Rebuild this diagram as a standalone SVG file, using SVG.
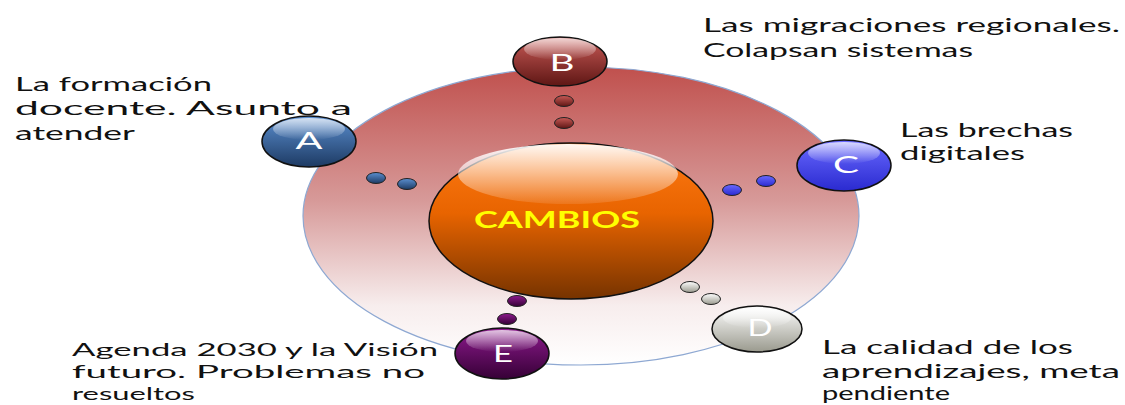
<svg xmlns="http://www.w3.org/2000/svg" width="1125" height="405" viewBox="0 0 1125 405">
<defs>
<linearGradient id="gRing" x1="0" y1="0" x2="0" y2="1">
<stop offset="0" stop-color="#c0504d"/>
<stop offset="0.45" stop-color="#d79a99"/>
<stop offset="0.8" stop-color="#f7eded"/>
<stop offset="1" stop-color="#ffffff"/>
</linearGradient>
<linearGradient id="gCore" x1="0" y1="0" x2="0" y2="1">
<stop offset="0" stop-color="#ff7a14"/>
<stop offset="0.45" stop-color="#e86400"/>
<stop offset="1" stop-color="#763300"/>
</linearGradient>
<linearGradient id="gHi" x1="0" y1="0" x2="0" y2="1">
<stop offset="0" stop-color="#ffffff" stop-opacity="0.95"/>
<stop offset="1" stop-color="#ffffff" stop-opacity="0.1"/>
</linearGradient>
<linearGradient id="gA" x1="0" y1="0" x2="0" y2="1">
<stop offset="0" stop-color="#5b8fd0"/>
<stop offset="1" stop-color="#1d3a63"/>
</linearGradient>
<linearGradient id="gB" x1="0" y1="0" x2="0" y2="1">
<stop offset="0" stop-color="#c85a56"/>
<stop offset="1" stop-color="#5e1614"/>
</linearGradient>
<linearGradient id="gC" x1="0" y1="0" x2="0" y2="1">
<stop offset="0" stop-color="#6a6aff"/>
<stop offset="1" stop-color="#2a2ad0"/>
</linearGradient>
<linearGradient id="gD" x1="0" y1="0" x2="0" y2="1">
<stop offset="0" stop-color="#ffffff"/>
<stop offset="1" stop-color="#9a9a8e"/>
</linearGradient>
<linearGradient id="gE" x1="0" y1="0" x2="0" y2="1">
<stop offset="0" stop-color="#8e1a8e"/>
<stop offset="1" stop-color="#360036"/>
</linearGradient>
<linearGradient id="gGloss" x1="0" y1="0" x2="0" y2="1">
<stop offset="0" stop-color="#ffffff" stop-opacity="0.75"/>
<stop offset="1" stop-color="#ffffff" stop-opacity="0"/>
</linearGradient>
</defs>
<style>
.ball{stroke:#111;stroke-width:1.5}
.dot{stroke:#222;stroke-width:1}
.gloss{fill:url(#gGloss)}
.let{font-family:Lato,"Open Sans","Liberation Sans",sans-serif;font-size:23px;fill:#ffffff;text-anchor:middle}
.lab{font-family:Lato,"Open Sans","Liberation Sans",sans-serif;font-size:20px;fill:#111}
.labs{font-size:18px}
.core{font-family:Lato,"Open Sans","Liberation Sans",sans-serif;font-size:22px;font-weight:bold;fill:#ffff00}
</style>
<rect width="1125" height="405" fill="#ffffff"/>
<g id="ring">
<ellipse cx="581" cy="216" rx="278" ry="149" fill="url(#gRing)" stroke="#8ea8d2" stroke-width="1.2"/>
</g>
<g id="connectors">
<ellipse class="dot" cx="376" cy="178" rx="9.5" ry="5.5" fill="url(#gA)"/>
<ellipse class="dot" cx="407" cy="184" rx="9.5" ry="5.5" fill="url(#gA)"/>
<ellipse class="dot" cx="564" cy="101" rx="9.5" ry="5.5" fill="url(#gB)"/>
<ellipse class="dot" cx="564" cy="123" rx="9.5" ry="5.5" fill="url(#gB)"/>
<ellipse class="dot" cx="766" cy="181" rx="9.5" ry="5.5" fill="url(#gC)"/>
<ellipse class="dot" cx="732" cy="190" rx="9.5" ry="5.5" fill="url(#gC)"/>
<ellipse class="dot" cx="690" cy="287" rx="9.5" ry="5.5" fill="url(#gD)"/>
<ellipse class="dot" cx="711" cy="299" rx="9.5" ry="5.5" fill="url(#gD)"/>
<ellipse class="dot" cx="517" cy="301" rx="9.5" ry="5.5" fill="url(#gE)"/>
<ellipse class="dot" cx="507" cy="319" rx="9.5" ry="5.5" fill="url(#gE)"/>
</g>
<g id="cambios">
<ellipse cx="571" cy="221" rx="142" ry="78" fill="url(#gCore)" stroke="#111" stroke-width="1.5"/>
<ellipse cx="568" cy="174" rx="110" ry="30" fill="url(#gHi)"/>
<text class="core" x="474" y="228" textLength="166" lengthAdjust="spacingAndGlyphs">CAMBIOS</text>
</g>
<g id="node-a">
<ellipse class="ball" cx="309" cy="141.5" rx="47" ry="25.5" fill="url(#gA)"/>
<ellipse class="gloss" cx="309" cy="129" rx="36" ry="11"/>
<text class="let" x="309" y="149" textLength="27" lengthAdjust="spacingAndGlyphs">A</text>
<text class="lab" x="15" y="91" textLength="197" lengthAdjust="spacingAndGlyphs">La formación</text>
<text class="lab" x="15" y="115" textLength="337" lengthAdjust="spacingAndGlyphs">docente. Asunto a</text>
<text class="lab" x="15" y="140" textLength="120" lengthAdjust="spacingAndGlyphs">atender</text>
</g>
<g id="node-b">
<ellipse class="ball" cx="560" cy="61.5" rx="47" ry="24.5" fill="url(#gB)"/>
<ellipse class="gloss" cx="560" cy="49" rx="36" ry="11"/>
<text class="let" x="562" y="71" textLength="25" lengthAdjust="spacingAndGlyphs">B</text>
<text class="lab" x="703" y="32" textLength="417" lengthAdjust="spacingAndGlyphs">Las migraciones regionales.</text>
<text class="lab" x="703" y="57" textLength="270" lengthAdjust="spacingAndGlyphs">Colapsan sistemas</text>
</g>
<g id="node-c">
<ellipse class="ball" cx="844" cy="165.5" rx="47" ry="25.5" fill="url(#gC)"/>
<ellipse class="gloss" cx="844" cy="153" rx="36" ry="11"/>
<text class="let" x="846" y="173" textLength="26" lengthAdjust="spacingAndGlyphs">C</text>
<text class="lab" x="900" y="137" textLength="173" lengthAdjust="spacingAndGlyphs">Las brechas</text>
<text class="lab" x="900" y="160" textLength="125" lengthAdjust="spacingAndGlyphs">digitales</text>
</g>
<g id="node-d">
<ellipse class="ball" cx="757" cy="329" rx="45" ry="23" fill="url(#gD)"/>
<ellipse class="gloss" cx="757" cy="318" rx="34" ry="10"/>
<text class="let" x="760" y="336" textLength="25" lengthAdjust="spacingAndGlyphs">D</text>
<text class="lab" x="822" y="354" textLength="251" lengthAdjust="spacingAndGlyphs">La calidad de los</text>
<text class="lab" x="822" y="378" textLength="298" lengthAdjust="spacingAndGlyphs">aprendizajes,  meta</text>
<text class="lab" x="822" y="400" textLength="128" lengthAdjust="spacingAndGlyphs">pendiente</text>
</g>
<g id="node-e">
<ellipse class="ball" cx="502" cy="353.5" rx="47" ry="25.5" fill="url(#gE)"/>
<ellipse class="gloss" cx="502" cy="341" rx="36" ry="11"/>
<text class="let" x="503" y="362" textLength="20" lengthAdjust="spacingAndGlyphs">E</text>
<text class="lab labs" x="72" y="356" textLength="366" lengthAdjust="spacingAndGlyphs">Agenda 2030 y la Visión</text>
<text class="lab labs" x="72" y="378" textLength="353" lengthAdjust="spacingAndGlyphs">futuro. Problemas no</text>
<text class="lab labs" x="72" y="400" textLength="123" lengthAdjust="spacingAndGlyphs">resueltos</text>
</g>
</svg>
